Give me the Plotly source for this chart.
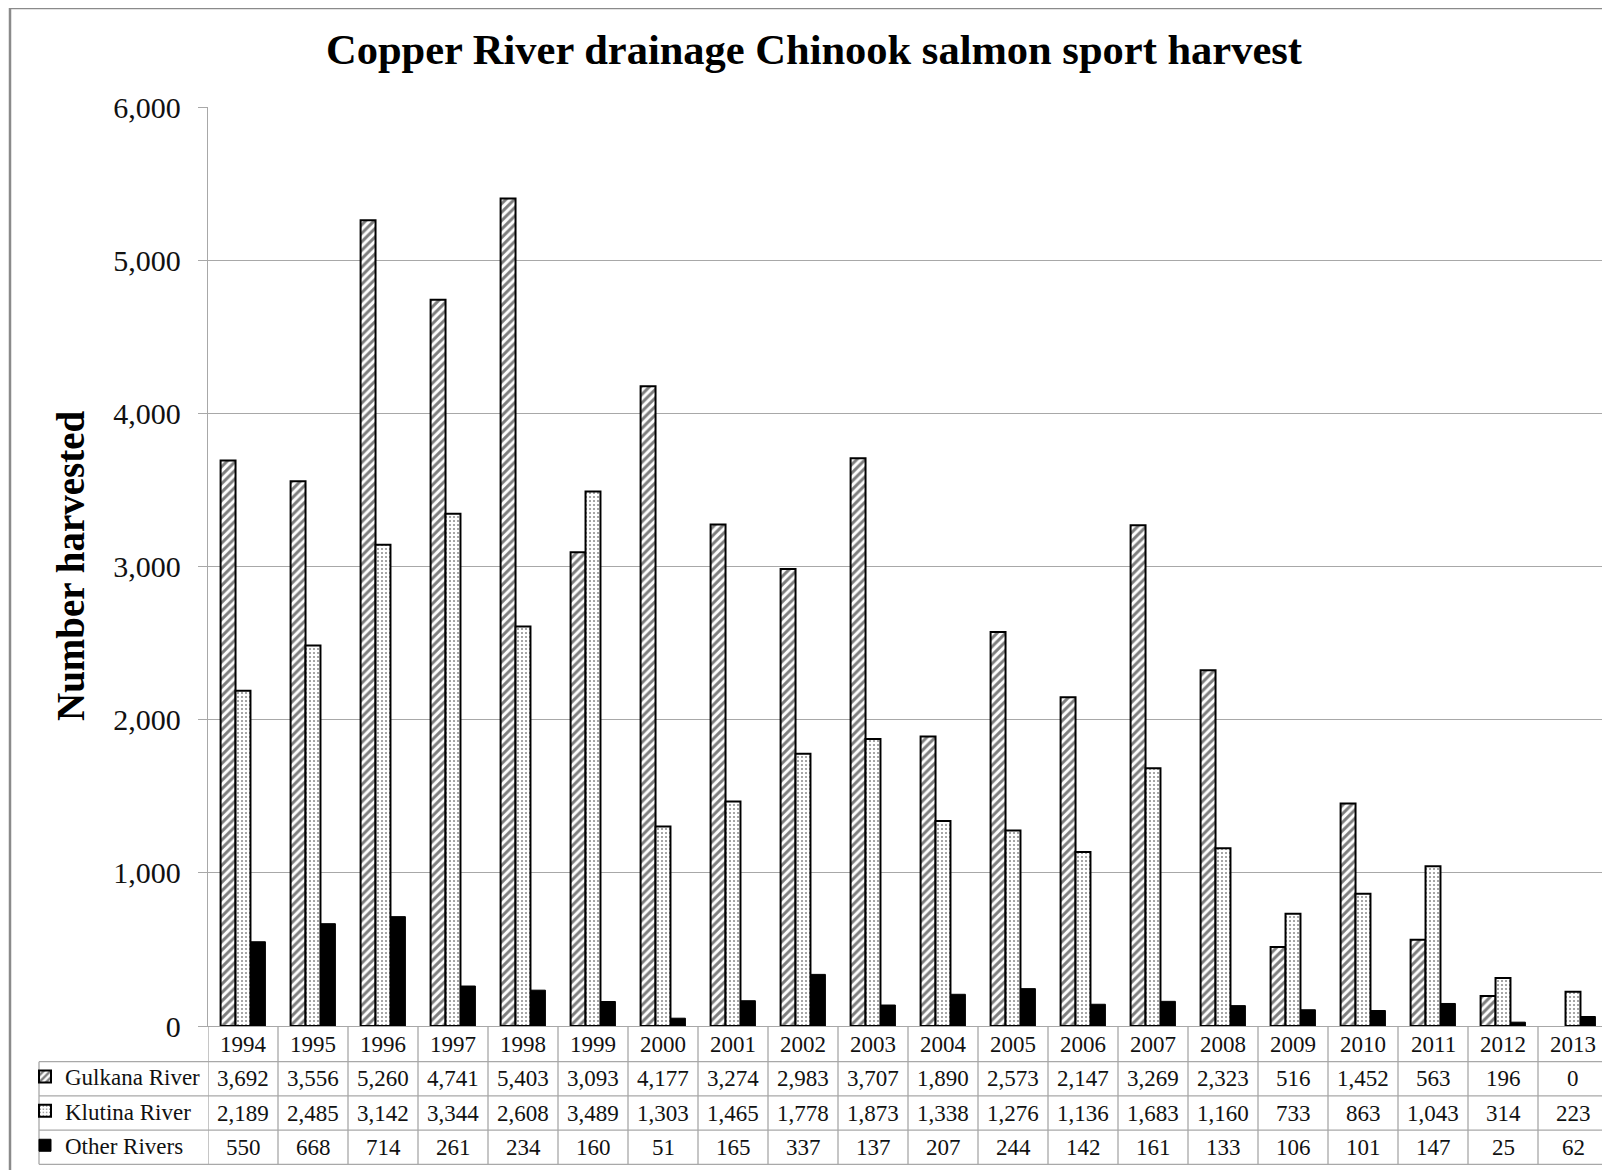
import plotly.graph_objects as go

years = [str(y) for y in range(1994, 2014)]
series_names = ["Gulkana River", "Klutina River", "Other Rivers"]
gulkana = [3692, 3556, 5260, 4741, 5403, 3093, 4177, 3274, 2983, 3707, 1890, 2573, 2147, 3269, 2323, 516, 1452, 563, 196, 0]
klutina = [2189, 2485, 3142, 3344, 2608, 3489, 1303, 1465, 1778, 1873, 1338, 1276, 1136, 1683, 1160, 733, 863, 1043, 314, 223]
other = [550, 668, 714, 261, 234, 160, 51, 165, 337, 137, 207, 244, 142, 161, 133, 106, 101, 147, 25, 62]
y_ticks = [0, 1000, 2000, 3000, 4000, 5000, 6000]

# page body has an 8px margin; work in screen pixels and convert
OFF = 8
W, H = 1602, 1162
SL, SR, ST, SB = 208, 1608, 107, 1026  # plot area in screen pixels
ML, MT = SL - OFF, ST - OFF
MR, MB = W - (SR - OFF), H - (SB - OFF)
PW, PH = SR - SL, SB - ST
FONT = "Liberation Serif"
GRID = "#a8a8a8"
TXT = "#111111"

def py(s):  # screen y -> paper y
    return (SB - s) / PH

def px(s):  # screen x -> paper x
    return (s - SL) / PW

def outline(vals, w):
    return [w if v > 0 else 0 for v in vals]

fig = go.Figure()
styles = [
    dict(color="white", line=dict(color="black", width=outline(gulkana, 2)),
         pattern=dict(shape="/", fgcolor="black", bgcolor="white", size=6, solidity=0.5)),
    dict(color="white", line=dict(color="black", width=outline(klutina, 2)),
         pattern=dict(shape=".", fgcolor="black", bgcolor="white", size=4, solidity=0.17)),
    dict(color="black", line=dict(color="black", width=1)),
]
idx = list(range(len(years)))
for name, vals, st in zip(series_names, [gulkana, klutina, other], styles):
    fig.add_trace(go.Bar(x=idx, y=vals, name=name, marker=st, legendgroup=name))

shapes = []
annotations = []
row_h = 34.2
rows = [SB + 1.5 + i * row_h for i in range(5)]  # screen y of row boundaries
label_left = px(39)

for i in range(1, 5):
    shapes.append(dict(type="line", xref="paper", yref="paper", x0=label_left, x1=1,
                       y0=py(rows[i]), y1=py(rows[i]), line=dict(color=GRID, width=1.3)))
for i in range(len(years) + 1):
    shapes.append(dict(type="line", xref="x", yref="paper", x0=i - 0.5, x1=i - 0.5,
                       y0=0, y1=py(rows[4]), line=dict(color=GRID, width=1.3)))
shapes.append(dict(type="line", xref="paper", yref="paper", x0=label_left, x1=label_left,
                   y0=py(rows[1]), y1=py(rows[4]), line=dict(color=GRID, width=1.3)))
# outer border (left + top)
shapes.append(dict(type="line", xref="paper", yref="paper", x0=px(10), x1=px(10),
                   y0=py(8), y1=py(1300), line=dict(color="#8a8a8a", width=2.5)))
shapes.append(dict(type="line", xref="paper", yref="paper", x0=px(9), x1=px(1700),
                   y0=py(8), y1=py(8), line=dict(color="#8a8a8a", width=2.5)))

cell_font = dict(family=FONT, size=23, color=TXT)
for j, yr in enumerate(years):
    annotations.append(dict(x=j, y=py((rows[0] + rows[1]) / 2), xref="x", yref="paper",
                            text=yr, showarrow=False, font=cell_font, xanchor="center", yanchor="middle"))
for r, vals in enumerate([gulkana, klutina, other]):
    yc = py((rows[r + 1] + rows[r + 2]) / 2)
    for j in idx:
        annotations.append(dict(x=j, y=yc, xref="x", yref="paper", text=f"{vals[j]:,}",
                                showarrow=False, font=cell_font, xanchor="center", yanchor="middle"))

annotations.append(dict(x=px(70), y=py(566), xref="paper", yref="paper", text="<b>Number harvested</b>",
                        textangle=-90, showarrow=False, font=dict(family=FONT, size=39, color="black"),
                        xanchor="center", yanchor="middle"))

fig.update_layout(
    width=W, height=H,
    margin=dict(l=ML, r=MR, t=MT, b=MB, autoexpand=False),
    paper_bgcolor="white", plot_bgcolor="white",
    title=dict(text="<b>Copper River drainage Chinook salmon sport harvest</b>",
               x=(814 - OFF) / W, xref="container", y=1 - (49 - OFF) / H, yref="container",
               xanchor="center", yanchor="middle",
               font=dict(family=FONT, size=42.5, color="black")),
    barmode="group", bargap=0.36, bargroupgap=0,
    shapes=shapes, annotations=annotations,
    showlegend=True,
    legend=dict(x=px(25), y=py(1055), xref="paper", yref="paper", xanchor="left", yanchor="top",
                font=dict(family=FONT, size=23, color=TXT), tracegroupgap=1.5,
                bgcolor="rgba(0,0,0,0)", borderwidth=0, traceorder="grouped"),
    font=dict(family=FONT),
)
fig.update_xaxes(showticklabels=False, showgrid=False, showline=True, linecolor=GRID, linewidth=1.3,
                 ticks="", zeroline=False, range=[-0.5, len(years) - 0.5])
fig.update_yaxes(range=[0, 6000], tickvals=y_ticks, tickformat=",", showgrid=True, gridcolor=GRID, gridwidth=1.3,
                 showline=True, linecolor=GRID, linewidth=1.3, ticks="outside", ticklen=9, tickcolor=GRID,
                 tickfont=dict(family=FONT, size=30, color=TXT), zeroline=False, ticklabelstandoff=11)

fig.write_html("out.html")
